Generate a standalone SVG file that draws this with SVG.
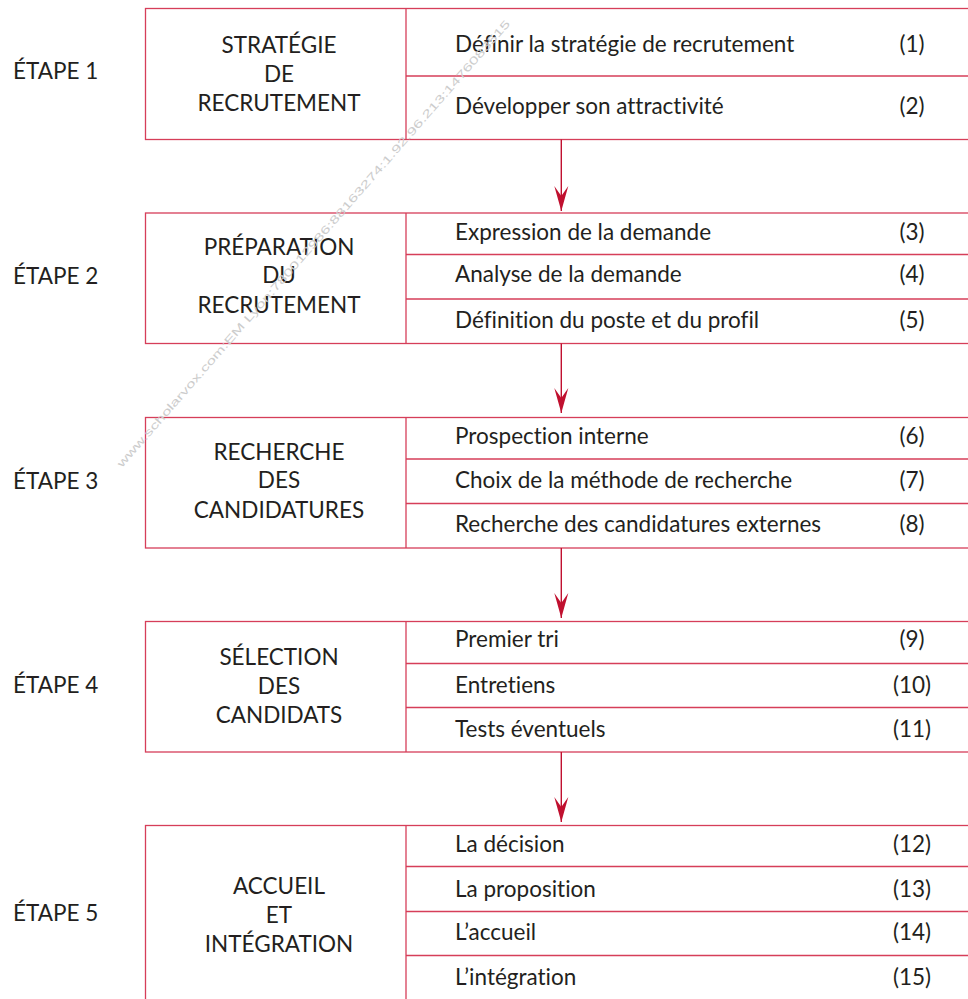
<svg xmlns="http://www.w3.org/2000/svg" width="968" height="999" viewBox="0 0 968 999">
  <style>
    .frame { fill: #ffffff; stroke: #d63e59; stroke-width: 1.3; }
    .sep { fill: none; stroke: #d63e59; stroke-width: 1.3; }
    .t { font-family: Lato, "Liberation Sans", sans-serif; font-size: 22.5px; fill: #231f20; font-variant-ligatures: none; }
    .mid { text-anchor: middle; }
    .link { fill: none; stroke: #c0102f; stroke-width: 1.4; }
    .wm { font-family: "Liberation Sans", Arial, sans-serif; font-size: 11px; fill: #cccccc; }
  </style>
  <defs>
    <marker id="head" markerUnits="userSpaceOnUse" markerWidth="26" markerHeight="16" viewBox="-25 -8 26 16" refX="0" refY="0" orient="auto">
      <path d="M0,0 L-25,-7 L-15,0 L-25,7 Z" fill="#c0102f"/>
    </marker>
  </defs>
  <rect width="968" height="999" fill="#ffffff"/>

  <!-- Step 1 -->
  <g id="etape1">
    <text class="t" x="13" y="79">ÉTAPE 1</text>
    <rect class="frame" x="145.5" y="8.5" width="830" height="131"/>
    <line class="sep" x1="406" y1="8.5" x2="406" y2="139.5"/>
    <line class="sep" x1="406" y1="76" x2="975" y2="76"/>
    <text class="t mid" x="279" y="52.7">STRATÉGIE</text>
    <text class="t mid" x="279" y="82.3">DE</text>
    <text class="t mid" x="279" y="110.7">RECRUTEMENT</text>
    <text class="t" x="455" y="52.3">Définir la stratégie de recrutement</text>
    <text class="t mid" x="912" y="52.3">(1)</text>
    <text class="t" x="455" y="114.3">Développer son attractivité</text>
    <text class="t mid" x="912" y="114.3">(2)</text>
  </g>

  <!-- Step 2 -->
  <g id="etape2">
    <text class="t" x="13" y="284">ÉTAPE 2</text>
    <rect class="frame" x="145.5" y="213" width="830" height="130.5"/>
    <line class="sep" x1="406" y1="213" x2="406" y2="343.5"/>
    <line class="sep" x1="406" y1="254.5" x2="975" y2="254.5"/>
    <line class="sep" x1="406" y1="299" x2="975" y2="299"/>
    <text class="t mid" x="279" y="255">PRÉPARATION</text>
    <text class="t mid" x="279" y="283.3">DU</text>
    <text class="t mid" x="279" y="313.3">RECRUTEMENT</text>
    <text class="t" x="455" y="240">Expression de la demande</text>
    <text class="t mid" x="912" y="240">(3)</text>
    <text class="t" x="455" y="281.5">Analyse de la demande</text>
    <text class="t mid" x="912" y="281.5">(4)</text>
    <text class="t" x="455" y="328">Définition du poste et du profil</text>
    <text class="t mid" x="912" y="328">(5)</text>
  </g>

  <!-- Step 3 -->
  <g id="etape3">
    <text class="t" x="13" y="489">ÉTAPE 3</text>
    <rect class="frame" x="145.5" y="417.5" width="830" height="130.5"/>
    <line class="sep" x1="406" y1="417.5" x2="406" y2="548"/>
    <line class="sep" x1="406" y1="459" x2="975" y2="459"/>
    <line class="sep" x1="406" y1="503.5" x2="975" y2="503.5"/>
    <text class="t mid" x="279" y="460">RECHERCHE</text>
    <text class="t mid" x="279" y="488.3">DES</text>
    <text class="t mid" x="279" y="518.3">CANDIDATURES</text>
    <text class="t" x="455" y="444">Prospection interne</text>
    <text class="t mid" x="912" y="444">(6)</text>
    <text class="t" x="455" y="488">Choix de la méthode de recherche</text>
    <text class="t mid" x="912" y="488">(7)</text>
    <text class="t" x="455" y="532">Recherche des candidatures externes</text>
    <text class="t mid" x="912" y="532">(8)</text>
  </g>

  <!-- Step 4 -->
  <g id="etape4">
    <text class="t" x="13" y="693">ÉTAPE 4</text>
    <rect class="frame" x="145.5" y="621.5" width="830" height="130.5"/>
    <line class="sep" x1="406" y1="621.5" x2="406" y2="752"/>
    <line class="sep" x1="406" y1="663.5" x2="975" y2="663.5"/>
    <line class="sep" x1="406" y1="707.5" x2="975" y2="707.5"/>
    <text class="t mid" x="279" y="665">SÉLECTION</text>
    <text class="t mid" x="279" y="694">DES</text>
    <text class="t mid" x="279" y="723.3">CANDIDATS</text>
    <text class="t" x="455" y="647">Premier tri</text>
    <text class="t mid" x="912" y="647">(9)</text>
    <text class="t" x="455" y="693">Entretiens</text>
    <text class="t mid" x="912" y="693">(10)</text>
    <text class="t" x="455" y="737">Tests éventuels</text>
    <text class="t mid" x="912" y="737">(11)</text>
  </g>

  <!-- Step 5 -->
  <g id="etape5">
    <text class="t" x="13" y="921">ÉTAPE 5</text>
    <rect class="frame" x="145.5" y="825.5" width="830" height="190"/>
    <line class="sep" x1="406" y1="825.5" x2="406" y2="1010"/>
    <line class="sep" x1="406" y1="866.5" x2="975" y2="866.5"/>
    <line class="sep" x1="406" y1="911.5" x2="975" y2="911.5"/>
    <line class="sep" x1="406" y1="955.5" x2="975" y2="955.5"/>
    <text class="t mid" x="279" y="894">ACCUEIL</text>
    <text class="t mid" x="279" y="922.7">ET</text>
    <text class="t mid" x="279" y="951.7">INTÉGRATION</text>
    <text class="t" x="455" y="852.3">La décision</text>
    <text class="t mid" x="912" y="852.3">(12)</text>
    <text class="t" x="455" y="896.7">La proposition</text>
    <text class="t mid" x="912" y="896.7">(13)</text>
    <text class="t" x="455" y="940">L’accueil</text>
    <text class="t mid" x="912" y="940">(14)</text>
    <text class="t" x="455" y="985">L’intégration</text>
    <text class="t mid" x="912" y="985">(15)</text>
  </g>

  <!-- Connectors between steps -->
  <g id="connectors">
    <line class="link" x1="561.3" y1="139.5" x2="561.3" y2="211" marker-end="url(#head)"/>
    <line class="link" x1="561.3" y1="343.5" x2="561.3" y2="413" marker-end="url(#head)"/>
    <line class="link" x1="561.3" y1="548" x2="561.3" y2="618" marker-end="url(#head)"/>
    <line class="link" x1="561.3" y1="752" x2="561.3" y2="822" marker-end="url(#head)"/>
  </g>

  <!-- Diagonal watermark -->
  <text class="wm" transform="translate(122,468) rotate(-48.8)" textLength="590" lengthAdjust="spacingAndGlyphs">www.scholarvox.com:EM Lyon:780012986:88163274:1.92.96.213:1476083515</text>
</svg>
